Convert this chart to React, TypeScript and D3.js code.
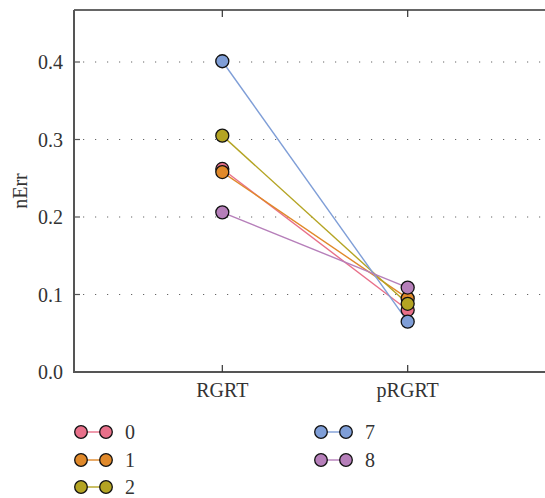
import React from "react";
import * as d3 from "d3";

const categories = ["RGRT", "pRGRT"];
const seriesNames = ["0", "1", "2", "7", "8"];
const seriesColors = ["#E8708A", "#E0892A", "#B4A423", "#7F9ED7", "#B67FBA"];
const valuesRGRT = [0.262, 0.258, 0.305, 0.401, 0.206];
const valuesPRGRT = [0.080, 0.095, 0.088, 0.065, 0.109];
const yTicks = [0.0, 0.1, 0.2, 0.3, 0.4];

const W = 545;
const H = 498;
const left = 74;
const top = 10;
const bottom = 372;
const right = 556;
const font = "'Liberation Serif', 'Times New Roman', serif";
const fs = 20;

export default function App() {
  const x = d3.scalePoint<string>().domain(categories).range([left, right]).padding(0.8);
  const y = d3.scaleLinear().domain([0, 0.4]).range([bottom, 62]);
  const line = d3
    .line<[string, number]>()
    .x((d) => x(d[0]) as number)
    .y((d) => y(d[1]));

  const series = seriesNames.map((name, i) => ({
    name,
    color: seriesColors[i],
    pts: [
      [categories[0], valuesRGRT[i]],
      [categories[1], valuesPRGRT[i]],
    ] as [string, number][],
  }));

  const legendRowsY = [432, 460, 487];
  const legendColX = [81, 321];

  return (
    <svg
      width={W}
      height={H}
      style={{ position: "absolute", left: 0, top: 0, background: "#fff" }}
      fontFamily={font}
    >
      {yTicks.slice(1).map((t) => (
        <line
          key={"g" + t}
          x1={left + 9}
          x2={W}
          y1={y(t)}
          y2={y(t)}
          stroke="#666"
          strokeWidth={1.2}
          strokeDasharray="1.2 10.8"
        />
      ))}
      <line x1={left} x2={W} y1={top} y2={top} stroke="#333" strokeWidth={1.5} />
      <line x1={left} x2={W} y1={bottom} y2={bottom} stroke="#555" strokeWidth={2} />
      <line x1={left} x2={left} y1={top} y2={bottom + 1} stroke="#555" strokeWidth={2} />
      {yTicks.map((t) => (
        <g key={"yt" + t}>
          <line x1={left} x2={left + 6} y1={y(t)} y2={y(t)} stroke="#555" strokeWidth={1.2} />
          <text x={63} y={y(t)} dy="0.35em" textAnchor="end" fontSize={fs} fill="#333">
            {d3.format(".1f")(t)}
          </text>
        </g>
      ))}
      {categories.map((c) => (
        <g key={"xt" + c}>
          <line x1={x(c)} x2={x(c)} y1={bottom} y2={bottom - 7} stroke="#333" strokeWidth={1.2} />
          <line x1={x(c)} x2={x(c)} y1={top} y2={top + 7} stroke="#333" strokeWidth={1.2} />
          <text x={x(c)} y={397} textAnchor="middle" fontSize={fs} fill="#333">
            {c}
          </text>
        </g>
      ))}
      <text
        transform={`translate(27,${(top + bottom) / 2}) rotate(-90)`}
        textAnchor="middle"
        fontSize={fs}
        fill="#333"
      >
        nErr
      </text>
      {series.map((s) => (
        <path key={"l" + s.name} d={line(s.pts) as string} fill="none" stroke={s.color} strokeWidth={1.4} />
      ))}
      {series.map((s) =>
        s.pts.map((p, j) => (
          <circle
            key={"m" + s.name + j}
            cx={x(p[0])}
            cy={y(p[1])}
            r={6.5}
            fill={s.color}
            stroke="#111"
            strokeWidth={1.3}
          />
        ))
      )}
      {series.map((s, i) => {
        const col = i < 3 ? 0 : 1;
        const row = i < 3 ? i : i - 3;
        const lx = legendColX[col];
        const ly = legendRowsY[row];
        return (
          <g key={"lg" + s.name}>
            <line x1={lx} x2={lx + 25} y1={ly} y2={ly} stroke={s.color} strokeWidth={1.4} />
            <circle cx={lx} cy={ly} r={6.3} fill={s.color} stroke="#111" strokeWidth={1.3} />
            <circle cx={lx + 25} cy={ly} r={6.3} fill={s.color} stroke="#111" strokeWidth={1.3} />
            <text x={lx + 44} y={ly} dy="0.33em" fontSize={fs} fill="#333">
              {s.name}
            </text>
          </g>
        );
      })}
    </svg>
  );
}
